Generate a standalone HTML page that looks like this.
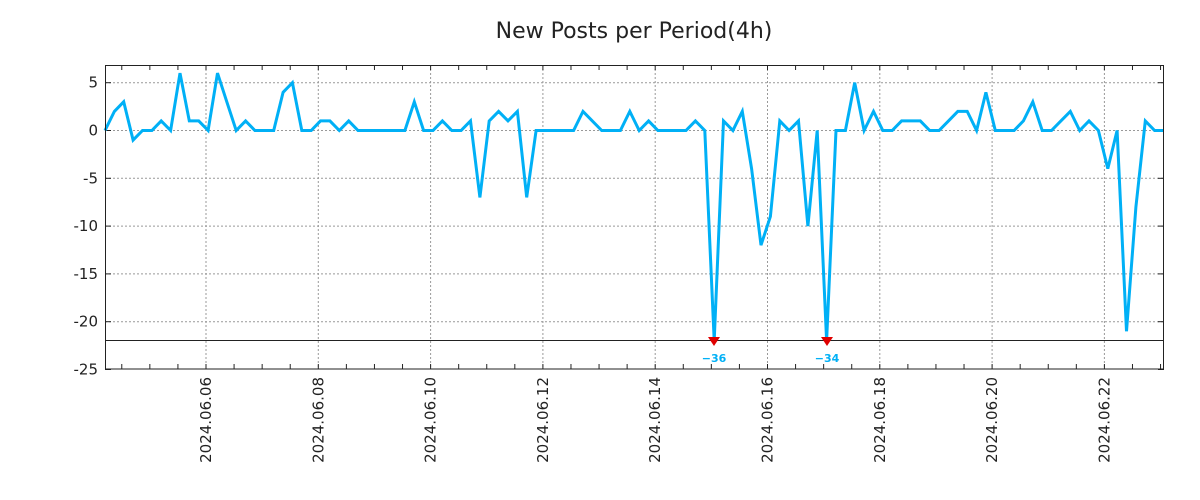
<!DOCTYPE html>
<html><head><meta charset="utf-8"><style>
body{margin:0;background:#fff;width:1200px;height:500px;overflow:hidden}
svg{display:block;font-family:"DejaVu Sans","Liberation Sans",sans-serif}
</style></head><body>
<svg id="s" width="1200" height="500" viewBox="0 0 1200 500" xmlns="http://www.w3.org/2000/svg">
<rect width="1200" height="500" fill="#fff"/>
<text x="634" y="38" font-size="22" text-anchor="middle" fill="#222">New Posts per Period(4h)</text>
<g id="grid" stroke="#999" stroke-width="1" stroke-dasharray="2,2"></g>
<g id="ticks" stroke="#222" stroke-width="1"></g>
<g id="ylab" font-size="15" fill="#222" text-anchor="end"></g>
<g id="xlab" font-size="15" fill="#222"></g>
<line x1="105" y1="340.5" x2="1164" y2="340.5" stroke="#222" stroke-width="1"/>
<polyline id="line" fill="none" stroke="#00b0f6" stroke-width="3" stroke-linejoin="miter"/>
<polygon points="708,337 720,337 714,346" fill="#e00000"/>
<polygon points="821,337 833,337 827,346" fill="#e00000"/>
<text x="714" y="362" font-size="11" font-weight="bold" fill="#00b0f6" text-anchor="middle">−36</text>
<text x="827" y="362" font-size="11" font-weight="bold" fill="#00b0f6" text-anchor="middle">−34</text>
<rect x="105.5" y="65.5" width="1058" height="303.5" fill="none" stroke="#222" stroke-width="1"/>
</svg>
<script>
var NS="http://www.w3.org/2000/svg";
function el(p,t,a,txt){var e=document.createElementNS(NS,t);for(var k in a)e.setAttribute(k,a[k]);if(txt!=null)e.textContent=txt;document.getElementById(p).appendChild(e);}
function Y(v){return 130.5-v*9.56;}
[5,0,-5,-10,-15,-20].forEach(function(v){el("grid","line",{x1:105,x2:1164,y1:Y(v),y2:Y(v)});});
[5,0,-5,-10,-15,-20,-25].forEach(function(v){el("ylab","text",{x:98,y:Y(v)+5},String(v));
 el("ticks","line",{x1:105,x2:111,y1:Y(v),y2:Y(v)});el("ticks","line",{x1:1158,x2:1164,y1:Y(v),y2:Y(v)});});
var dx=56.15,x0=206;
for(var x=x0-3*dx/2;x<1164;x+=dx/2){if(x<106)continue;
 el("ticks","line",{x1:x,x2:x,y1:369,y2:364});el("ticks","line",{x1:x,x2:x,y1:65,y2:70});}
var lbl=["06","08","10","12","14","16","18","20","22"];
for(var i=0;i<lbl.length;i++){var x=x0+i*2*dx;
 el("grid","line",{x1:x,x2:x,y1:65,y2:369});
 el("xlab","text",{x:0,y:0,transform:"translate("+(x+5)+",377) rotate(-90)","text-anchor":"end"},"2024.06."+lbl[i]);}
var d=[0,2,3,-1,0,0,1,0,6,1,1,0,6,3,0,1,0,0,0,4,5,0,0,1,1,0,1,0,0,0,0,0,0,3,0,0,1,0,0,1,-7,1,2,1,2,-7,0,0,0,0,0,2,1,0,0,0,2,0,1,0,0,0,0,1,0,-36,1,0,2,-4,-12,-9,1,0,1,-10,0,-34,0,0,5,0,2,0,0,1,1,1,0,0,1,2,2,0,4,0,0,0,1,3,0,0,1,2,0,1,0,-4,0,-21,-8,1,0,0];
var n=d.length,st=(1164-105)/(n-1),pts=[];
for(var i=0;i<n;i++){var v=Math.max(d[i],-22);pts.push((105+i*st).toFixed(1)+","+Y(v).toFixed(1));}
document.getElementById("line").setAttribute("points",pts.join(" "));
</script>
</body></html>
